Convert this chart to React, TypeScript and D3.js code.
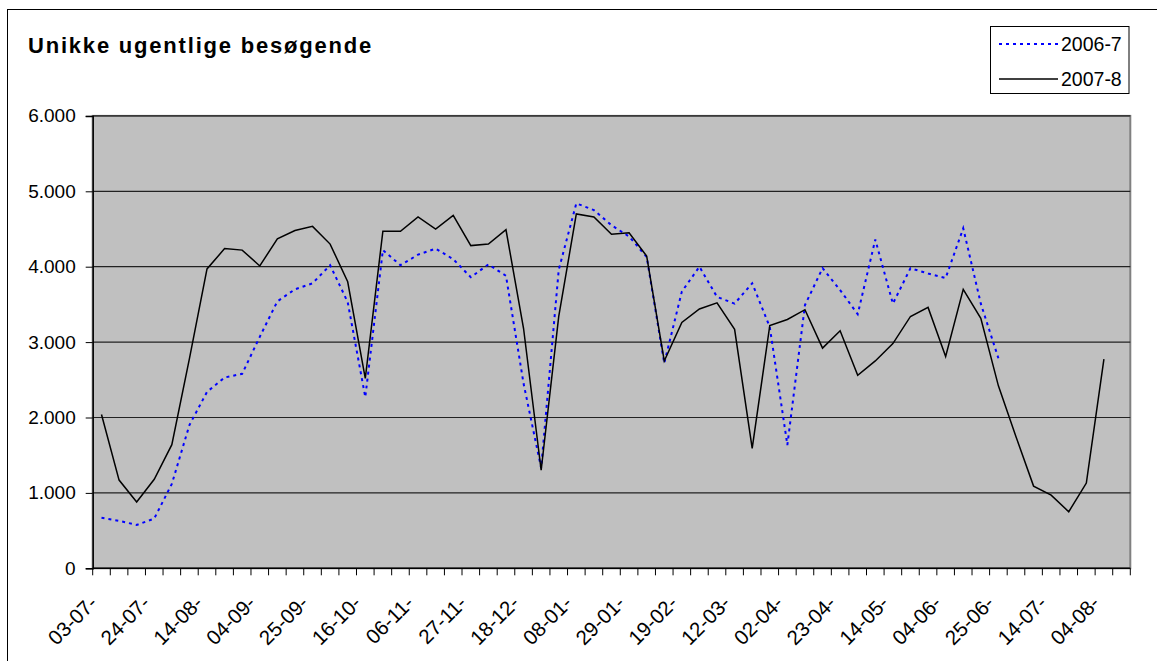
import { useRef, useEffect } from "react";
import * as d3 from "d3";

// weekly unique visitors, one value per week starting 03-07
const season2006: number[] = [
  670, 630, 575, 660, 1120, 1900, 2340, 2530, 2580, 3070, 3540, 3700, 3780, 4020,
  3530, 2270, 4220, 4020, 4160, 4240, 4100, 3860, 4030, 3880, 2450, 1330, 3960,
  4840, 4750, 4550, 4400, 4130, 2720, 3670, 4000, 3600, 3510, 3780, 3200, 1635,
  3490, 3980, 3690, 3370, 4360, 3510, 3980, 3910, 3850, 4510, 3510, 2785,
];

const season2007: number[] = [
  2040, 1170, 880, 1180, 1640, 2780, 3970, 4240, 4220, 4010, 4370, 4480, 4535,
  4300, 3800, 2520, 4470, 4470, 4660, 4500, 4680, 4280, 4300, 4490, 3180, 1300,
  3340, 4700, 4660, 4430, 4450, 4140, 2750, 3260, 3440, 3520, 3170, 1590, 3220,
  3300, 3430, 2920, 3150, 2560, 2750, 2980, 3340, 3460, 2810, 3700, 3315, 2420,
  1745, 1090, 970, 750, 1130, 2775,
];

// every third week gets a label
const weekLabels: string[] = [
  "03-07-", "24-07-", "14-08-", "04-09-", "25-09-", "16-10-", "06-11-",
  "27-11-", "18-12-", "08-01-", "29-01-", "19-02-", "12-03-", "02-04-",
  "23-04-", "14-05-", "04-06-", "25-06-", "14-07-", "04-08-",
];
const weekCount = 59;

const yTicks: number[] = [0, 1000, 2000, 3000, 4000, 5000, 6000];

const seriesNames = ["2006-7", "2007-8"];

const FONT = "'Liberation Sans', Arial, sans-serif";

function VisitorsChart({ width = 1157, height = 661 }) {
  const svgRef = useRef<SVGSVGElement>(null);

  useEffect(() => {
    if (!svgRef.current) return;
    const svg = d3.select(svgRef.current);
    svg.selectAll("*").remove();

    const plot = { left: 92.7, right: 1130.3, top: 115.9, bottom: 568.3 };

    const x = d3.scaleBand<number>()
      .domain(d3.range(weekCount))
      .range([plot.left, plot.right])
      .padding(0);
    const cx = (i: number) => (x(i) ?? 0) + x.bandwidth() / 2;

    const y = d3.scaleLinear().domain([0, 6000]).range([plot.bottom, plot.top]);

    const fmt = d3.formatLocale({
      decimal: ",",
      thousands: ".",
      grouping: [3],
      currency: ["", " kr"],
    }).format(",d");

    // chart frame
    svg.append("rect")
      .attr("x", 7.5).attr("y", 9.5)
      .attr("width", width + 20).attr("height", height + 20)
      .attr("fill", "#fff").attr("stroke", "#000").attr("stroke-width", 1);

    // title
    svg.append("text")
      .attr("x", 28).attr("y", 53)
      .attr("font-family", FONT).attr("font-size", "22px")
      .attr("font-weight", "bold").attr("letter-spacing", "1.8px")
      .attr("fill", "#000")
      .text("Unikke ugentlige besøgende");

    // plot area
    svg.append("rect")
      .attr("x", plot.left).attr("y", plot.top)
      .attr("width", plot.right - plot.left).attr("height", plot.bottom - plot.top)
      .attr("fill", "#c0c0c0").attr("stroke", "#808080").attr("stroke-width", 2);

    // gridlines
    svg.append("g").selectAll("line")
      .data(yTicks.filter((d) => d > 0))
      .join("line")
      .attr("x1", plot.left).attr("x2", plot.right)
      .attr("y1", (d) => y(d)).attr("y2", (d) => y(d))
      .attr("stroke", "#222").attr("stroke-width", 1.2);

    // y axis
    const yAxis = svg.append("g")
      .attr("transform", `translate(${plot.left},0)`)
      .call(d3.axisLeft(y).tickValues(yTicks).tickSize(7).tickPadding(10).tickFormat((d) => fmt(+d)));
    yAxis.select(".domain").attr("stroke", "#000").attr("stroke-width", 1.5);
    yAxis.selectAll(".tick line").attr("stroke", "#000");
    yAxis.selectAll(".tick text")
      .attr("font-family", FONT).attr("font-size", "19px").attr("fill", "#000");

    // x axis: a tick on each week boundary
    const xg = svg.append("g");
    xg.append("line")
      .attr("x1", plot.left).attr("x2", plot.right)
      .attr("y1", plot.bottom).attr("y2", plot.bottom)
      .attr("stroke", "#000").attr("stroke-width", 1.5);
    xg.selectAll(".wtick")
      .data(d3.range(weekCount + 1))
      .join("line")
      .attr("class", "wtick")
      .attr("x1", (i) => (i < weekCount ? x(i) ?? 0 : plot.right))
      .attr("x2", (i) => (i < weekCount ? x(i) ?? 0 : plot.right))
      .attr("y1", plot.bottom).attr("y2", plot.bottom + 7)
      .attr("stroke", "#000");
    xg.selectAll(".wlabel")
      .data(weekLabels)
      .join("text")
      .attr("class", "wlabel")
      .attr("text-anchor", "end")
      .attr("font-family", FONT).attr("font-size", "20.5px").attr("fill", "#000")
      .attr("transform", (_, k) => `translate(${cx(k * 3) - 3},${plot.bottom + 36}) rotate(-45)`)
      .text((d) => d);

    const line = d3.line<number>()
      .x((_, i) => cx(i))
      .y((d) => y(d));

    svg.append("path")
      .datum(season2006)
      .attr("d", line)
      .attr("fill", "none").attr("stroke", "#0000ff")
      .attr("stroke-width", 2).attr("stroke-dasharray", "3,4");

    svg.append("path")
      .datum(season2007)
      .attr("d", line)
      .attr("fill", "none").attr("stroke", "#000")
      .attr("stroke-width", 1.5);

    // legend
    const lg = svg.append("g");
    lg.append("rect")
      .attr("x", 990.5).attr("y", 26.5).attr("width", 138.5).attr("height", 67)
      .attr("fill", "#fff").attr("stroke", "#000").attr("stroke-width", 1);
    const legendItems = [
      { name: seriesNames[0], stroke: "#0000ff", dash: "3,4", width: 2, ly: 44 },
      { name: seriesNames[1], stroke: "#000", dash: null, width: 1.5, ly: 79 },
    ];
    legendItems.forEach((it) => {
      lg.append("line")
        .attr("x1", 999).attr("x2", 1058).attr("y1", it.ly).attr("y2", it.ly)
        .attr("stroke", it.stroke).attr("stroke-width", it.width)
        .attr("stroke-dasharray", it.dash);
      lg.append("text")
        .attr("x", 1061).attr("y", it.ly + 6.5)
        .attr("font-family", FONT).attr("font-size", "19.5px").attr("fill", "#000")
        .text(it.name);
    });
  }, [width, height]);

  return <svg ref={svgRef} width={width} height={height} style={{ display: "block" }} />;
}

export default function App() {
  return (
    <div style={{ position: "absolute", left: 0, top: 0, width: 1157, height: 661, overflow: "hidden", background: "#fff" }}>
      <VisitorsChart />
    </div>
  );
}
